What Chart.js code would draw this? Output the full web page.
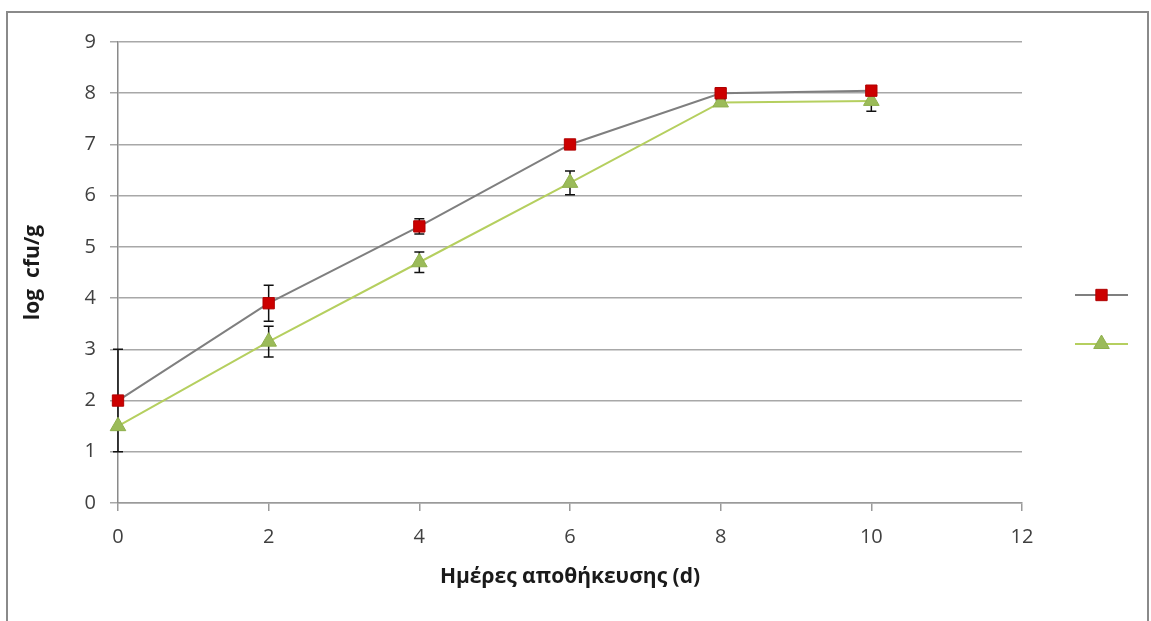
<!DOCTYPE html>
<html>
<head>
<meta charset="utf-8">
<script src="https://cdn.jsdelivr.net/npm/chart.js@4/dist/chart.umd.min.js"></script>
<style>
  html, body { margin: 0; padding: 0; background: #fff; }
  #wrap { width: 1151px; height: 621px; }
</style>
</head>
<body>
<div id="wrap"><canvas id="c" width="1151" height="621"></canvas></div>
<script>
// storage days and counts (log cfu/g)
const days = [0, 2, 4, 6, 8, 10];
const redValues = [2.0, 3.9, 5.4, 7.0, 8.0, 8.05];
const redErrors = [1.0, 0.35, 0.15, 0.08, 0.1, 0.08];
const greenValues = [1.5, 3.15, 4.7, 6.25, 7.82, 7.85];
const greenErrors = [0, 0.3, 0.2, 0.23, 0.05, 0.2];
const xTicks = [0, 2, 4, 6, 8, 10, 12];
const yTicks = [0, 1, 2, 3, 4, 5, 6, 7, 8, 9];

const fontFamily = "'Open Sans', 'Noto Sans', sans-serif";

const toPoints = (vals) => days.map((d, i) => ({ x: d, y: vals[i] }));

// frame around the whole chart
const frame = {
  id: 'frame',
  beforeDraw(chart) {
    const ctx = chart.ctx;
    ctx.save();
    ctx.fillStyle = '#fff';
    ctx.fillRect(0, 0, chart.width, chart.height);
    ctx.strokeStyle = '#8a8a8a';
    ctx.lineWidth = 2;
    ctx.strokeRect(7, 12, 1141, 700);
    ctx.restore();
  }
};

// vertical error bars, drawn under the markers
const errorBars = {
  id: 'errorBars',
  beforeDatasetsDraw(chart) {
    const ctx = chart.ctx;
    const xs = chart.scales.x, ys = chart.scales.y;
    ctx.save();
    ctx.strokeStyle = '#111';
    ctx.lineWidth = 1.5;
    chart.data.datasets.forEach((ds) => {
      ds.data.forEach((p, i) => {
        const e = ds.errors[i];
        if (!e) return;
        const x = xs.getPixelForValue(p.x);
        const top = ys.getPixelForValue(p.y + e);
        const bot = ys.getPixelForValue(p.y - e);
        ctx.beginPath();
        ctx.moveTo(x, top); ctx.lineTo(x, bot);
        ctx.moveTo(x - 5, top); ctx.lineTo(x + 5, top);
        ctx.moveTo(x - 5, bot); ctx.lineTo(x + 5, bot);
        ctx.stroke();
      });
    });
    ctx.restore();
  }
};

// legend with line samples only, no labels
const sideLegend = {
  id: 'sideLegend',
  afterDraw(chart) {
    const ctx = chart.ctx;
    const x0 = 1075, x1 = 1128;
    const rows = [295, 344];
    chart.data.datasets.forEach((ds, i) => {
      const y = rows[i];
      ctx.save();
      ctx.strokeStyle = ds.borderColor;
      ctx.lineWidth = ds.borderWidth;
      ctx.beginPath();
      ctx.moveTo(x0, y); ctx.lineTo(x1, y);
      ctx.stroke();
      ctx.fillStyle = ds.pointBackgroundColor;
      ctx.strokeStyle = ds.pointBorderColor;
      ctx.lineWidth = 1;
      Chart.helpers.drawPoint(ctx, {
        pointStyle: ds.pointStyle,
        radius: ds.pointRadius,
        borderWidth: 1,
        rotation: 0
      }, (x0 + x1) / 2, y);
      ctx.restore();
    });
  }
};

new Chart(document.getElementById('c'), {
  type: 'line',
  data: {
    datasets: [
      {
        data: toPoints(redValues),
        errors: redErrors,
        clip: false,
        borderColor: '#7f7f7f',
        borderWidth: 2,
        pointStyle: 'rect',
        pointRadius: 8,
        pointBackgroundColor: '#cc0000',
        pointBorderColor: '#b00000',
        pointBorderWidth: 1
      },
      {
        data: toPoints(greenValues),
        errors: greenErrors,
        clip: false,
        borderColor: '#b5cf5f',
        borderWidth: 2,
        pointStyle: 'triangle',
        pointRadius: 9,
        pointBackgroundColor: '#9bbb59',
        pointBorderColor: '#8fb04d',
        pointBorderWidth: 1
      }
    ]
  },
  options: {
    responsive: false,
    animation: false,
    layout: { padding: { left: 0, right: 129, top: 42, bottom: 0 } },
    plugins: { legend: { display: false }, tooltip: { enabled: false } },
    scales: {
      x: {
        type: 'linear',
        min: 0,
        max: 12,
        afterBuildTicks: (s) => { s.ticks = xTicks.map(v => ({ value: v })); },
        afterFit: (s) => { s.height = 118; },
        grid: { drawOnChartArea: false, drawTicks: true, tickLength: 8, color: '#9a9a9a', lineWidth: 1.5 },
        border: { color: '#9a9a9a', width: 1.5 },
        ticks: { color: '#404040', padding: 14, font: { family: fontFamily, size: 20 } },
        title: {
          display: true,
          text: 'Ημέρες αποθήκευσης (d)',
          color: '#1a1a1a',
          font: { family: fontFamily, size: 21, weight: 'bold' },
          padding: { top: 31, bottom: 31 }
        }
      },
      y: {
        min: 0,
        max: 9,
        afterBuildTicks: (s) => { s.ticks = yTicks.map(v => ({ value: v })); },
        afterFit: (s) => { s.width = 118; },
        grid: { color: '#a8a8a8', lineWidth: 1.5, tickLength: 8 },
        border: { color: '#8a8a8a', width: 1.5 },
        ticks: { color: '#404040', padding: 14, font: { family: fontFamily, size: 20 } },
        title: {
          display: true,
          text: 'log  cfu/g',
          color: '#1a1a1a',
          font: { family: fontFamily, size: 21, weight: 'bold' },
          padding: { top: 20, bottom: 20 }
        }
      }
    }
  },
  plugins: [frame, errorBars, sideLegend]
});
</script>
</body>
</html>
